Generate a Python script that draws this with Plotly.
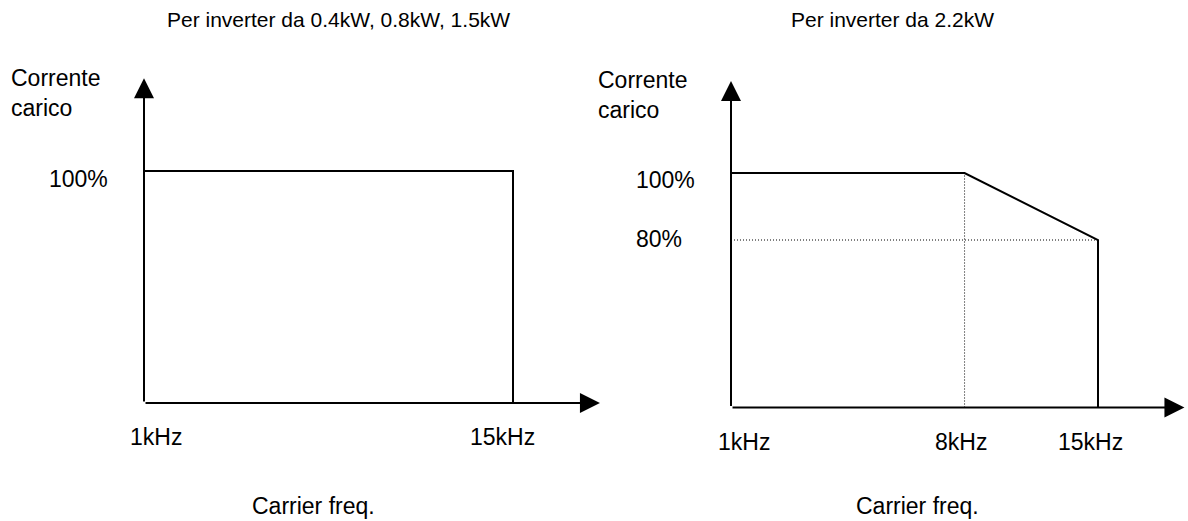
import numpy as np
import plotly.graph_objects as go

W, H = 1188, 521

# chart data
panel_titles = ["Per inverter da 0.4kW, 0.8kW, 1.5kW", "Per inverter da 2.2kW"]
y_axis_label = "Corrente<br>carico"
x_axis_label = "Carrier freq."

left_freq_khz = [1, 15]
left_load_pct = [100, 100]
left_freq_labels = ["1kHz", "15kHz"]
left_load_labels = ["100%"]
left_load_ticks = [100]

right_freq_khz = [1, 8, 15]
right_load_pct = [100, 100, 80]
right_freq_labels = ["1kHz", "8kHz", "15kHz"]
right_load_labels = ["100%", "80%"]
right_load_ticks = [100, 80]

# axis extents (where the drawn axes start / where the arrows end)
left_base, left_top = 0, 140
right_base, right_top = 30, 127.5
freq_end_khz = 20.7

FONT = "Liberation Sans, Arial, sans-serif"
BLACK = "#000000"


def pos(f):
    # schematic spacing of the frequency axis (not linear in the original drawing)
    return np.sqrt(np.asarray(f, dtype=float))


def fit(v0, p0, v1, p1, lo, hi, size, vertical):
    """domain that puts value v0 at pixel p0 and v1 at pixel p1 for range [lo, hi]"""
    k = (p1 - p0) / (v1 - v0)
    a = p0 + (lo - v0) * k
    b = p0 + (hi - v0) * k
    if vertical:
        return [1 - a / size, 1 - b / size]
    return [a / size, b / size]


def px(x):
    return x / W


def py(y):
    return 1 - y / H


fig = go.Figure()

# dotted guides, right panel
guide = dict(color=BLACK, width=1, dash="1px,2px")
fig.add_trace(go.Scatter(
    x=pos([right_freq_khz[1], right_freq_khz[1]]), y=[right_base, right_load_pct[1]],
    mode="lines", line=guide, xaxis="x2", yaxis="y2", hoverinfo="skip"))
fig.add_trace(go.Scatter(
    x=pos([right_freq_khz[0], right_freq_khz[-1]]), y=[right_load_pct[-1], right_load_pct[-1]],
    mode="lines", line=guide, xaxis="x2", yaxis="y2", hoverinfo="skip"))

# derating curves, dropping down to the frequency axis at the max carrier
fig.add_trace(go.Scatter(
    x=pos(left_freq_khz + [left_freq_khz[-1]]), y=left_load_pct + [left_base],
    mode="lines", line=dict(color=BLACK, width=2),
    xaxis="x", yaxis="y", hoverinfo="skip"))
fig.add_trace(go.Scatter(
    x=pos(right_freq_khz + [right_freq_khz[-1]]), y=right_load_pct + [right_base],
    mode="lines", line=dict(color=BLACK, width=2),
    xaxis="x2", yaxis="y2", hoverinfo="skip"))

ann = []
arrow = dict(showarrow=True, arrowhead=2, arrowsize=2, arrowwidth=2,
             arrowcolor=BLACK, standoff=0, text="")

# axis arrows
for xa, ya, f0, base, top in [("x", "y", left_freq_khz[0], left_base, left_top),
                              ("x2", "y2", right_freq_khz[0], right_base, right_top)]:
    x0 = float(pos(f0))
    ann.append(dict(arrow, xref=xa, yref=ya, axref=xa, ayref=ya,
                    x=float(pos(freq_end_khz)), y=base, ax=x0, ay=base))
    ann.append(dict(arrow, xref=xa, yref=ya, axref=xa, ayref=ya,
                    x=x0, y=top, ax=x0, ay=base))

lab = dict(showarrow=False, font=dict(family=FONT, size=23, color=BLACK))
title_font = dict(family=FONT, size=21, color=BLACK)

# titles
ann.append(dict(lab, text=panel_titles[0], xref="paper", yref="paper",
                x=px(338), y=py(20), xanchor="center", yanchor="middle", font=title_font))
ann.append(dict(lab, text=panel_titles[1], xref="paper", yref="paper",
                x=px(892), y=py(20), xanchor="center", yanchor="middle", font=title_font))

# y axis names
ann.append(dict(lab, text=y_axis_label, xref="paper", yref="paper", align="left",
                x=px(9), y=py(93), xanchor="left", yanchor="middle"))
ann.append(dict(lab, text=y_axis_label, xref="paper", yref="paper", align="left",
                x=px(596), y=py(95), xanchor="left", yanchor="middle"))

# load levels
for t, v in zip(left_load_labels, left_load_ticks):
    ann.append(dict(lab, text=t, xref="paper", yref="y", x=px(47), y=v,
                    xanchor="left", yanchor="middle", yshift=-8))
for t, v in zip(right_load_labels, right_load_ticks):
    ann.append(dict(lab, text=t, xref="paper", yref="y2", x=px(634), y=v,
                    xanchor="left", yanchor="middle", yshift=-7 if v == 100 else 1))

# frequency labels
for t, f, sh in zip(left_freq_labels, left_freq_khz, [12, -11]):
    ann.append(dict(lab, text=t, xref="x", yref="paper", x=float(pos(f)), y=py(437),
                    xanchor="center", yanchor="middle", xshift=sh))
for t, f, sh in zip(right_freq_labels, right_freq_khz, [13, -4, -8]):
    ann.append(dict(lab, text=t, xref="x2", yref="paper", x=float(pos(f)), y=py(442),
                    xanchor="center", yanchor="middle", xshift=sh))

# x axis names
for cx in (313, 917):
    ann.append(dict(lab, text=x_axis_label, xref="paper", yref="paper",
                    x=px(cx), y=py(506), xanchor="center", yanchor="middle"))

hidden = dict(visible=False, showgrid=False, zeroline=False, fixedrange=True)

fig.update_layout(
    width=W, height=H,
    margin=dict(l=0, r=0, t=0, b=0),
    paper_bgcolor="white", plot_bgcolor="white",
    showlegend=False,
    font=dict(family=FONT, color=BLACK),
    xaxis=dict(hidden, range=[0.8, 4.8],
               domain=fit(1, 144, float(pos(15)), 513, 0.8, 4.8, W, False)),
    yaxis=dict(hidden, range=[-8, 150],
               domain=fit(0, 403, 100, 171, -8, 150, H, True)),
    xaxis2=dict(hidden, range=[0.8, 4.57],
                domain=fit(1, 731, float(pos(15)), 1098, 0.8, 4.57, W, False)),
    yaxis2=dict(hidden, range=[25, 135],
                domain=fit(80, 240, 100, 173, 25, 135, H, True)),
    annotations=ann,
)

# drop the default page margin so the figure sits at the window's corner
fig.write_html("out.html", config={"displayModeBar": False},
               post_script="document.body.style.margin='0';document.body.style.overflow='hidden';")
